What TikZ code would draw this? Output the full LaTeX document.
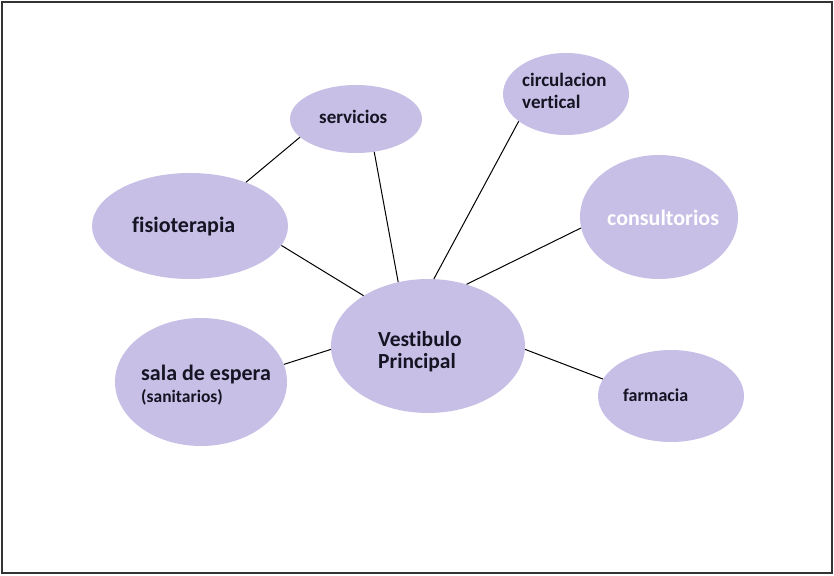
\documentclass[tikz,border=0pt]{standalone}
\usepackage{fontspec}
\setmainfont{Carlito}[Ligatures=NoCommon]
\usetikzlibrary{shapes.geometric}
\definecolor{lav}{RGB}{199,191,230}
\definecolor{ink}{RGB}{20,20,35}
\tikzset{
  bub/.style={ellipse, fill=lav, draw=none, inner sep=0pt},
  lbl/.style={anchor=base west, inner sep=0pt, text=ink, font=\bfseries\fontsize{#1}{#1}\selectfont},
  link/.style={draw=black, line width=1pt}
}
\begin{document}
\begin{tikzpicture}[x=1pt,y=-1pt]
\useasboundingbox (0,0) rectangle (834,575);
\draw[line width=1.2pt, draw=black!80] (2,2) rectangle (832,573);
% bubbles
\node[bub, minimum width=132pt, minimum height=68pt] (serv) at (356,119) {};
\node[bub, minimum width=126pt, minimum height=82pt] (circ) at (566,94) {};
\node[bub, minimum width=196pt, minimum height=106pt] (fisio) at (190,226) {};
\node[bub, minimum width=158pt, minimum height=124pt] (cons) at (659,217) {};
\node[bub, minimum width=194pt, minimum height=134pt] (vest) at (428,346) {};
\node[bub, minimum width=172pt, minimum height=128pt] (sala) at (201,382) {};
\node[bub, minimum width=146pt, minimum height=92pt] (farm) at (671,396) {};
% labels
\node[lbl=19] (servt) at (319,123) {servicios};
\node[lbl=19] (circt1) at (522,87) {circulacion};
\node[lbl=19] (circt2) at (522,108) {vertical};
\node[lbl=22] (fisiot) at (132,232) {fisioterapia};
\node[lbl=22, text=white] (const) at (607,225) {consultorios};
\node[lbl=21.5] (vestt1) at (378,346) {Vestibulo};
\node[lbl=21.5] (vestt2) at (378,368) {Principal};
\node[lbl=22] (salat1) at (141,380) {sala de espera};
\node[lbl=17.5] (salat2) at (141,402) {(sanitarios)};
\node[lbl=18] (farmt) at (623,401) {farmacia};
% links
\draw[link] (serv.198) -- (fisio.38);
\draw[link] (serv.299) -- (vest.115);
\draw[link] (circ.210) -- (vest.85);
\draw[link] (cons.188) -- (vest.58);
\draw[link] (fisio.348) -- (vest.142);
\draw[link] (sala.12) -- (vest.182);
\draw[link] (vest.358) -- (farm.166);
\end{tikzpicture}
\end{document}
